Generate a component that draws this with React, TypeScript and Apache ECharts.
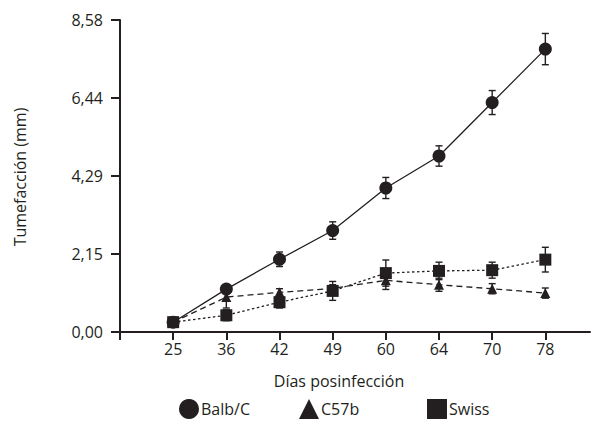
import React, { useEffect, useRef } from "react";
import * as echarts from "echarts";

const days = ["25", "36", "42", "49", "60", "64", "70", "78"];
const yTicks = [0, 2.15, 4.29, 6.44, 8.58];

const balb = [0.27, 1.18, 2.0, 2.79, 3.96, 4.84, 6.31, 7.78];
const balbErr = [0, 0.1, 0.2, 0.24, 0.29, 0.28, 0.33, 0.43];
const c57 = [0.27, 0.96, 1.09, 1.2, 1.42, 1.3, 1.19, 1.07];
const c57Err = [0, 0.3, 0.1, 0.1, 0.25, 0.18, 0.14, 0.14];
const swiss = [0.27, 0.46, 0.82, 1.13, 1.62, 1.68, 1.7, 1.99];
const swissErr = [0, 0.15, 0.16, 0.26, 0.36, 0.24, 0.22, 0.34];

const INK = "#231f20";
const FONT = "Open Sans";

function errSeries(name: string, vals: number[], errs: number[]) {
  return {
    name: name + " err",
    type: "custom",
    z: 1,
    silent: true,
    data: vals.map((v, i) => [i, v, errs[i]]),
    renderItem: (params: any, api: any) => {
      const x = api.value(0);
      const y = api.value(1);
      const e = api.value(2);
      if (!e) return null;
      const top = api.coord([x, y + e]);
      const bot = api.coord([x, y - e]);
      const cw = 3.5;
      const style = { stroke: INK, lineWidth: 1.4 };
      return {
        type: "group",
        children: [
          { type: "line", shape: { x1: top[0], y1: top[1], x2: bot[0], y2: bot[1] }, style },
          { type: "line", shape: { x1: top[0] - cw, y1: top[1], x2: top[0] + cw, y2: top[1] }, style },
          { type: "line", shape: { x1: bot[0] - cw, y1: bot[1], x2: bot[0] + cw, y2: bot[1] }, style },
        ],
      };
    },
  };
}

function lineSeries(name: string, vals: number[], symbol: string, size: number, dash: any) {
  return {
    name,
    type: "line",
    z: 3,
    data: vals.map((v, i) => [i, v]),
    symbol,
    symbolSize: size,
    showSymbol: true,
    itemStyle: { color: INK, borderWidth: 0 },
    lineStyle: { color: INK, width: 1.3, type: dash },
  };
}

function legendAt(name: string, icon: string, left: number) {
  return {
    data: [{ name, icon }],
    left,
    top: 399,
    padding: 0,
    itemWidth: 20,
    itemHeight: 20,
    itemGap: 0,
    selectedMode: false,
    textStyle: { color: INK, fontSize: 16, fontFamily: FONT, padding: [0, 0, 0, -3] },
  };
}

export default function App() {
  const ref = useRef<HTMLDivElement>(null);
  useEffect(() => {
    if (!ref.current) return;
    const chart = echarts.init(ref.current, undefined, { renderer: "svg" });
    chart.setOption({
      animation: false,
      backgroundColor: "#ffffff",
      textStyle: { fontFamily: FONT, color: INK },
      grid: { left: 120, right: 2, top: 20, bottom: 96 },
      xAxis: {
        type: "value",
        min: -1,
        max: 7.84,
        splitLine: { show: false },
        axisLine: { show: true, onZero: false, lineStyle: { color: INK, width: 2 } },
        axisTick: {
          show: true,
          customValues: [-1, 0, 1, 2, 3, 4, 5, 6, 7],
          length: 8,
          lineStyle: { color: INK, width: 2 },
        },
        axisLabel: {
          customValues: [0, 1, 2, 3, 4, 5, 6, 7],
          formatter: (v: number) => days[Math.round(v)] ?? "",
          color: INK,
          fontSize: 16,
          fontFamily: FONT,
          margin: 9,
        },
      },
      yAxis: {
        type: "value",
        min: 0,
        max: 8.58,
        splitLine: { show: false },
        axisLine: { show: true, onZero: false, lineStyle: { color: INK, width: 2 } },
        axisTick: {
          show: true,
          customValues: yTicks,
          length: 9,
          lineStyle: { color: INK, width: 2 },
        },
        axisLabel: {
          customValues: yTicks,
          formatter: (v: number) => v.toFixed(2).replace(".", ","),
          color: INK,
          fontSize: 16,
          fontFamily: FONT,
          margin: 17,
        },
      },
      legend: [
        legendAt("Balb/C", "circle", 179),
        legendAt("C57b", "triangle", 299),
        legendAt("Swiss", "rect", 427),
      ],
      graphic: [
        {
          type: "text",
          x: 339,
          y: 381,
          style: {
            text: "Días posinfección",
            fill: INK,
            font: `16px "${FONT}"`,
            align: "center",
            verticalAlign: "middle",
          },
        },
        {
          type: "text",
          x: 20,
          y: 177,
          rotation: Math.PI / 2,
          style: {
            text: "Tumefacción (mm)",
            fill: INK,
            font: `16px "${FONT}"`,
            align: "center",
            verticalAlign: "middle",
          },
        },
      ],
      series: [
        errSeries("Balb/C", balb, balbErr),
        errSeries("C57b", c57, c57Err),
        errSeries("Swiss", swiss, swissErr),
        lineSeries("C57b", c57, "triangle", 10, [6, 4]),
        lineSeries("Swiss", swiss, "rect", 12, [2.5, 2.5]),
        lineSeries("Balb/C", balb, "circle", 13, "solid"),
      ],
    });
    return () => chart.dispose();
  }, []);
  return (
    <div
      ref={ref}
      style={{ position: "fixed", left: 0, top: 0, width: 592, height: 428 }}
    />
  );
}
